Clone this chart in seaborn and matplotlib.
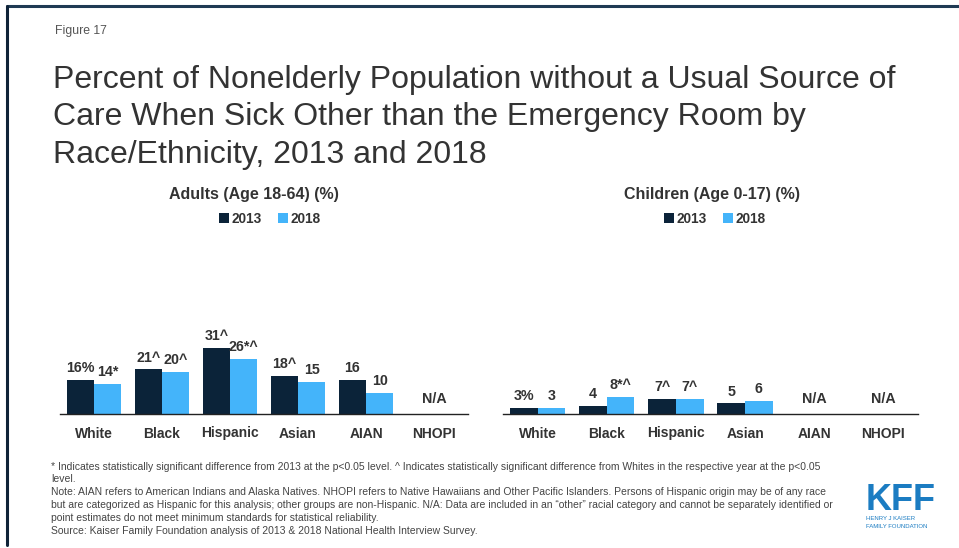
import numpy as np
import pandas as pd
import matplotlib
matplotlib.use("Agg")
import matplotlib.pyplot as plt
from matplotlib.lines import Line2D
import seaborn as sns

categories = ["White", "Black", "Hispanic", "Asian", "AIAN", "NHOPI"]
years = ["2013", "2018"]
adults_2013 = [16, 21, 31, 18, 16, np.nan]
adults_2018 = [14, 20, 26, 15, 10, np.nan]
adults_lbl_2013 = ["16%", "21^", "31^", "18^", "16", ""]
adults_lbl_2018 = ["14*", "20^", "26*^", "15", "10", ""]
children_2013 = [3, 4, 7, 5, np.nan, np.nan]
children_2018 = [3, 8, 7, 6, np.nan, np.nan]
children_lbl_2013 = ["3%", "4", "7^", "5", "", ""]
children_lbl_2018 = ["3", "8*^", "7^", "6", "", ""]

sns.set_theme(style="white")
plt.rcParams["font.family"] = ["Liberation Sans", "DejaVu Sans"]

C13 = "#0b2339"
C18 = "#44b4fa"
TXT = "#333333"

W, H = 959, 548
fig = plt.figure(figsize=(W / 100, H / 100), dpi=100)
fig.patch.set_facecolor("white")


def fx(px):
    return px / W


def fy(py):
    return 1 - py / H


# border
fig.add_artist(Line2D([fx(7), fx(959)], [fy(6), fy(6)], color="#1f3a54", lw=2.2))
fig.add_artist(Line2D([fx(7), fx(7)], [fy(6), fy(545)], color="#0f2338", lw=2.2))

fig.text(fx(55), fy(31), "Figure 17", fontsize=8.8, color="#555555", va="center")
title_lines = ["Percent of Nonelderly Population without a Usual Source of",
               "Care When Sick Other than the Emergency Room by",
               "Race/Ethnicity, 2013 and 2018"]
for j, line in enumerate(title_lines):
    fig.text(fx(53), fy(80 + 37.5 * j), line, fontsize=23, color="#333333",
             va="center", ha="left")

ylim_top = 80
base_y = 414
px_per_unit = 2.12
top_y = base_y - ylim_top * px_per_unit


def panel(x0, x1, v13, v18, l13, l18, title, title_cx, legend_cx):
    ax = fig.add_axes([fx(x0), fy(base_y), fx(x1 - x0), (base_y - top_y) / H])
    df = pd.DataFrame({
        "cat": categories * 2,
        "year": [years[0]] * len(categories) + [years[1]] * len(categories),
        "val": list(v13) + list(v18),
    })
    sns.barplot(data=df, x="cat", y="val", hue="year", order=categories,
                hue_order=years, palette=[C13, C18], width=0.8, ax=ax,
                saturation=1, edgecolor="none", legend=True)
    ax.set_ylim(0, ylim_top)
    ax.set_xlim(-0.5, len(categories) - 0.5)
    ax.set_xlabel("")
    ax.set_ylabel("")
    ax.set_yticks([])
    for s in ["top", "right", "left"]:
        ax.spines[s].set_visible(False)
    ax.spines["bottom"].set_color("#222222")
    ax.spines["bottom"].set_linewidth(1.0)
    ax.set_xticks(range(len(categories)))
    ax.set_xticklabels(categories, fontsize=10, fontweight="bold", color=TXT)
    ax.tick_params(axis="x", which="major", length=0, pad=9)
    ax.set_xticks(np.arange(-0.5, len(categories)), minor=True)
    ax.tick_params(axis="x", which="minor", length=5, width=1, color="#222222", direction="out")
    ax.set_facecolor("none")

    labels = [l13, l18]
    vals = [v13, v18]
    for k, cont in enumerate(ax.containers[:2]):
        for bar in cont:
            h = bar.get_height()
            if h is None or np.isnan(h) or h == 0:
                continue
            cx = bar.get_x() + bar.get_width() / 2
            i = int(round(cx))
            ax.annotate(labels[k][i], (cx, h), xytext=(0, 3.5), textcoords="offset points",
                        ha="center", va="bottom", fontsize=10.3, fontweight="bold", color=TXT)
    for i, c in enumerate(categories):
        if np.isnan(vals[0][i]) and np.isnan(vals[1][i]):
            ax.annotate("N/A", (i, 0), xytext=(0, 6), textcoords="offset points",
                        ha="center", va="bottom", fontsize=10.3, fontweight="bold", color=TXT)

    leg = ax.legend(loc="center", bbox_to_anchor=(fx(legend_cx), fy(219)),
                    bbox_transform=fig.transFigure, ncol=2, frameon=False,
                    handlelength=0.7, handleheight=0.7, handletextpad=0.2,
                    columnspacing=1.2, fontsize=9.8, borderaxespad=0)
    for t in leg.get_texts():
        t.set_fontweight("bold")
        t.set_color(TXT)
    fig.text(fx(title_cx), fy(195), title, ha="center", va="center",
             fontsize=11.5, fontweight="bold", color=TXT)
    return ax


panel(60, 468, adults_2013, adults_2018, adults_lbl_2013, adults_lbl_2018,
      "Adults (Age 18-64) (%)", 254, 270)
panel(503, 918, children_2013, children_2018, children_lbl_2013, children_lbl_2018,
      "Children (Age 0-17) (%)", 712, 715)

foot = [
    (467, "* Indicates statistically significant difference from 2013 at the p<0.05 level. ^ Indicates statistically significant difference from Whites in the respective year at the p<0.05"),
    (479, "level."),
    (492, "Note: AIAN refers to American Indians and Alaska Natives. NHOPI refers to Native Hawaiians and Other Pacific Islanders. Persons of Hispanic origin may be of any race"),
    (505, "but are categorized as Hispanic for this analysis; other groups are non-Hispanic. N/A: Data are included in an \u201cother\u201d racial category and cannot be separately identified or"),
    (518, "point estimates do not meet minimum standards for statistical reliability."),
    (531, "Source: Kaiser Family Foundation analysis of 2013 & 2018 National Health Interview Survey."),
]
for y, t in foot:
    fig.text(fx(51), fy(y), t, fontsize=7.5, color="#444444", va="center", ha="left")

KFFC = "#1b7cc2"
fig.text(fx(901), fy(500), "KFF", fontsize=26, fontweight="bold", color=KFFC,
         ha="center", va="center")
fig.text(fx(866), fy(519), "HENRY J KAISER", fontsize=4.3, color=KFFC, ha="left", va="center")
fig.text(fx(866), fy(527), "FAMILY FOUNDATION", fontsize=4.3, color=KFFC, ha="left", va="center")

fig.savefig("out.png", dpi=100, facecolor="white")
